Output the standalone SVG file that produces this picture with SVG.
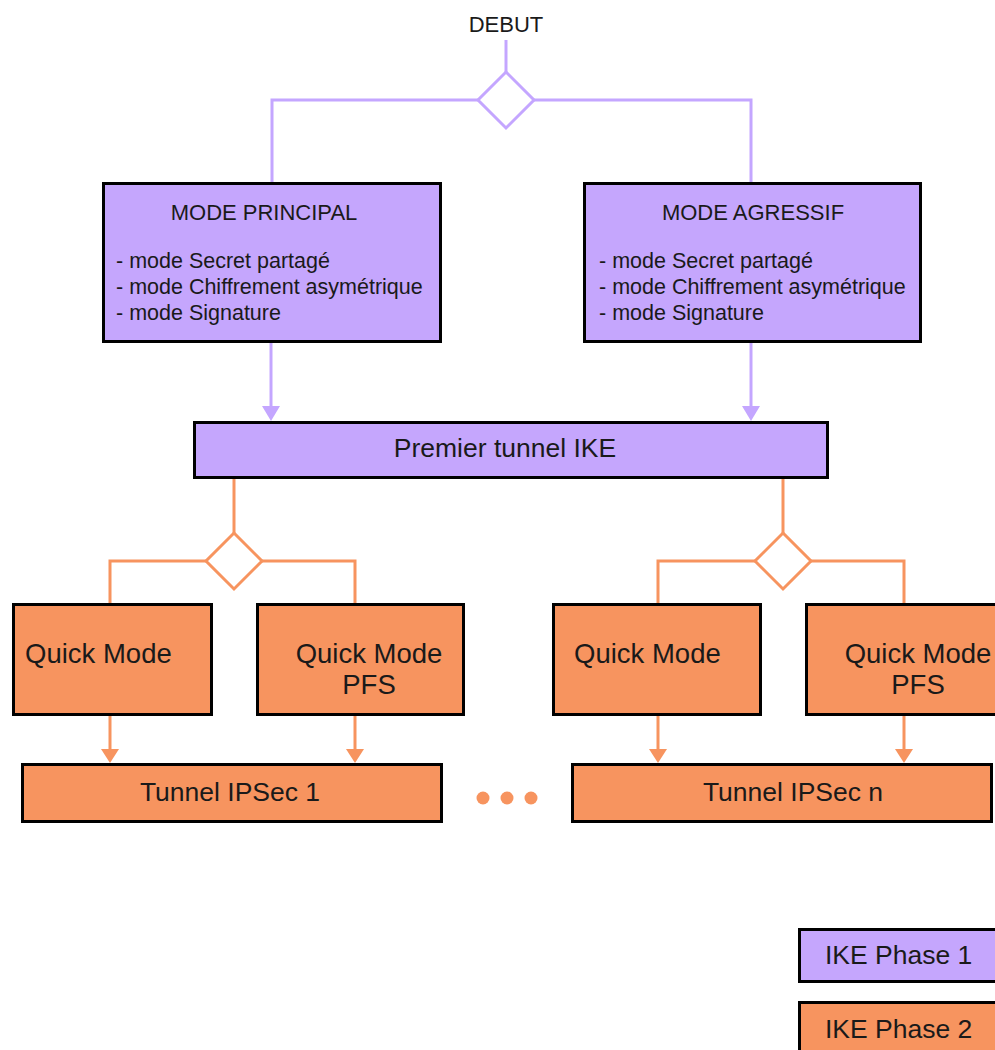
<svg xmlns="http://www.w3.org/2000/svg" width="995" height="1050" viewBox="0 0 995 1050">
<defs>
<style>
.p1{fill:#c5a6fd;stroke:#000;stroke-width:3}
.p2{fill:#f7945f;stroke:#000;stroke-width:3}
.lp{fill:none;stroke:#c4a6ff;stroke-width:3}
.lo{fill:none;stroke:#f7945f;stroke-width:3}
.dp{fill:#fff;stroke:#c4a6ff;stroke-width:3}
.do{fill:#fff;stroke:#f7945f;stroke-width:3}
.hp{fill:#c4a6ff}
.ho{fill:#f7945f}
text{font-family:"Liberation Sans",Arial,sans-serif;fill:#1a1a1a}
.t1{font-size:22px}
.t2{font-size:21.5px}
.t3{font-size:26.5px}
.t4{font-size:27.5px}
</style>
</defs>

<g id="connectors">
<path class="lp" d="M506,40 V72"/>
<path class="lp" d="M478,100 H272 V182"/>
<path class="lp" d="M534,100 H751 V182"/>
<path class="lp" d="M271,343 V408"/>
<path class="lp" d="M751,343 V408"/>
<polygon class="hp" points="262,406 280,406 271,421"/>
<polygon class="hp" points="742,406 760,406 751,421"/>
<path class="lo" d="M234,479 V533"/>
<path class="lo" d="M206,561 H110 V603"/>
<path class="lo" d="M262,561 H355 V603"/>
<path class="lo" d="M783,479 V533"/>
<path class="lo" d="M755,561 H658 V603"/>
<path class="lo" d="M811,561 H904 V603"/>
<path class="lo" d="M110,716 V751"/>
<path class="lo" d="M355,716 V751"/>
<path class="lo" d="M658,716 V751"/>
<path class="lo" d="M904,716 V751"/>
<polygon class="ho" points="101,749 119,749 110,763"/>
<polygon class="ho" points="346,749 364,749 355,763"/>
<polygon class="ho" points="649,749 667,749 658,763"/>
<polygon class="ho" points="895,749 913,749 904,763"/>
</g>

<g id="debut">
<text class="t1" x="506" y="32" text-anchor="middle">DEBUT</text>
</g>
<g id="decision1">
<polygon class="dp" points="506,72 534,100 506,128 478,100"/>
</g>

<g id="mode-principal">
<rect class="p1" x="103.5" y="183.5" width="337" height="158"/>
<text class="t1" x="264" y="220" text-anchor="middle">MODE PRINCIPAL</text>
<text class="t2" x="116" y="268">- mode Secret partagé</text>
<text class="t2" x="116" y="294">- mode Chiffrement asymétrique</text>
<text class="t2" x="116" y="320">- mode Signature</text>
</g>

<g id="mode-agressif">
<rect class="p1" x="584.5" y="183.5" width="336" height="158"/>
<text class="t1" x="753" y="220" text-anchor="middle">MODE AGRESSIF</text>
<text class="t2" x="599" y="268">- mode Secret partagé</text>
<text class="t2" x="599" y="294">- mode Chiffrement asymétrique</text>
<text class="t2" x="599" y="320">- mode Signature</text>
</g>

<g id="premier-tunnel">
<rect class="p1" x="194.5" y="422.5" width="633" height="55"/>
<text class="t3" x="505" y="457" text-anchor="middle">Premier tunnel IKE</text>
</g>

<g id="decision2">
<polygon class="do" points="234,533 262,561 234,589 206,561"/>
</g>
<g id="decision3">
<polygon class="do" points="783,533 811,561 783,589 755,561"/>
</g>

<g id="quick-mode-1">
<rect class="p2" x="13.5" y="604.5" width="198" height="110"/>
<text class="t4" x="25" y="663">Quick Mode</text>
</g>
<g id="quick-mode-pfs-1">
<rect class="p2" x="257.5" y="604.5" width="206" height="110"/>
<text class="t4" x="369" y="663" text-anchor="middle">Quick Mode</text>
<text class="t4" x="369" y="694" text-anchor="middle">PFS</text>
</g>
<g id="quick-mode-2">
<rect class="p2" x="553.5" y="604.5" width="207" height="110"/>
<text class="t4" x="574" y="663">Quick Mode</text>
</g>
<g id="quick-mode-pfs-2">
<rect class="p2" x="806.5" y="604.5" width="206" height="110"/>
<text class="t4" x="918" y="663" text-anchor="middle">Quick Mode</text>
<text class="t4" x="918" y="694" text-anchor="middle">PFS</text>
</g>

<g id="tunnel-ipsec-1">
<rect class="p2" x="22.5" y="764.5" width="419" height="57"/>
<text class="t3" x="230" y="801" text-anchor="middle">Tunnel IPSec 1</text>
</g>
<g id="tunnel-ipsec-n">
<rect class="p2" x="572.5" y="764.5" width="419" height="57"/>
<text class="t3" x="793" y="801" text-anchor="middle">Tunnel IPSec n</text>
</g>

<g id="ellipsis">
<circle class="ho" cx="483" cy="798" r="6.5"/>
<circle class="ho" cx="507" cy="798" r="6.5"/>
<circle class="ho" cx="531" cy="798" r="6.5"/>
</g>

<g id="legend-phase1">
<rect class="p1" x="799.5" y="929.5" width="210" height="52"/>
<text class="t3" x="825" y="964">IKE Phase 1</text>
</g>
<g id="legend-phase2">
<rect class="p2" x="799.5" y="1002.5" width="210" height="60"/>
<text class="t3" x="825" y="1038">IKE Phase 2</text>
</g>
</svg>
